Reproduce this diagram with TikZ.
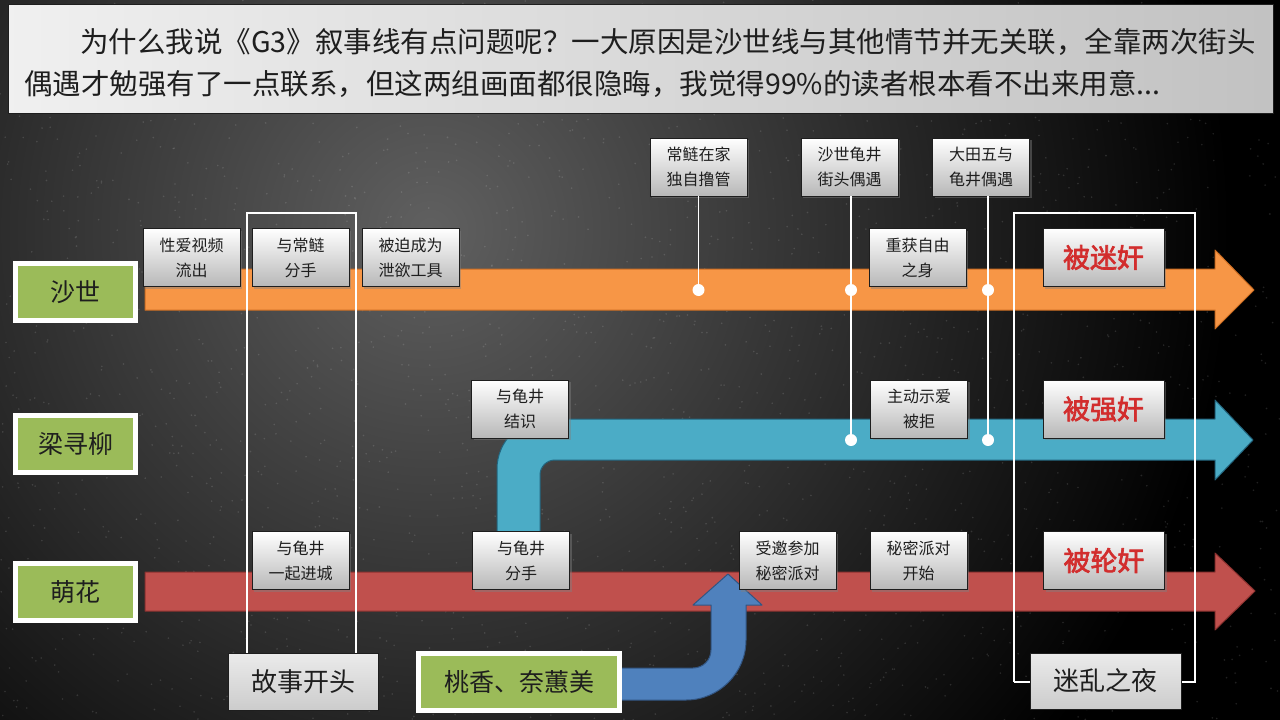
\documentclass[tikz,border=0pt]{standalone}
\usepackage{fontspec}
\setmainfont{Noto Sans CJK SC}[AutoFakeBold=2.5]
\usetikzlibrary{shadows}
\definecolor{orF}{RGB}{247,150,70}
\definecolor{orD}{RGB}{205,110,35}
\definecolor{aqF}{RGB}{75,172,198}
\definecolor{aqD}{RGB}{35,100,125}
\definecolor{rdF}{RGB}{192,80,77}
\definecolor{rdD}{RGB}{140,50,48}
\definecolor{blF}{RGB}{79,129,189}
\definecolor{blD}{RGB}{50,85,130}
\definecolor{grF}{RGB}{155,187,89}
\definecolor{hot}{RGB}{210,45,45}
\definecolor{ink}{RGB}{30,30,30}
\definecolor{bgA}{RGB}{96,96,96}
\begin{document}
\begin{tikzpicture}[x=1pt,y=-1pt,
  evbox/.style={draw=ink, line width=0.9pt, top color=white, bottom color=black!28,
    minimum width=97pt, minimum height=58pt, inner sep=0pt, align=center,
    font=\fontsize{16}{25}\selectfont, text=ink,
    drop shadow={shadow xshift=2pt, shadow yshift=-2pt, opacity=0.45}},
  hotbox/.style={evbox, minimum width=121pt, font=\fontsize{27}{27}\selectfont\bfseries, text=hot},
  lbl/.style={fill=grF, draw=white, line width=5pt, inner sep=0pt,
    minimum width=120pt, minimum height=57pt, font=\fontsize{25}{25}\selectfont, text=ink},
  capbox/.style={draw=ink, line width=0.9pt, top color=black!8, bottom color=black!20,
    minimum width=150pt, minimum height=57pt, inner sep=0pt, font=\fontsize{26}{26}\selectfont, text=ink},
  conn/.style={draw=white, line width=1.6pt},
  brk/.style={draw=white, line width=1.8pt},
  dot/.style={fill=white},
  arr/.style={line width=1pt, line join=round}]
\useasboundingbox (0,0) rectangle (1280,720);
% background
\fill[black] (0,0) rectangle (1280,720);
\begin{scope}
  \clip (0,0) rectangle (1280,720);
  \shade[inner color=bgA, outer color=black] (430,230) circle (800);
  \pgfmathsetseed{7}
  \foreach \i in {1,...,2200} {
    \pgfmathsetmacro{\px}{rnd*1280}
    \pgfmathsetmacro{\py}{rnd*720}
    \fill[white, opacity=0.13] (\px,\py) circle (0.9);
  }
\end{scope}
% top text box
\node[draw=ink, line width=1pt, left color=black!6, right color=black!24,
  minimum width=1265pt, minimum height=109pt, inner sep=0pt] (head) at (640.5,58.5) {};
\node[anchor=west, inner sep=0pt, text=ink, font=\fontsize{28.5}{30}\selectfont] (tx1) at (80,42)
  {为什么我说《G3》叙事线有点问题呢？一大原因是沙世线与其他情节并无关联，全靠两次街头};
\node[anchor=west, inner sep=0pt, text=ink, font=\fontsize{28.5}{30}\selectfont] (tx2) at (24,84)
  {偶遇才勉强有了一点联系，但这两组画面都很隐晦，我觉得99\%的读者根本看不出来用意...};
% orange arrow (沙世)
\filldraw[arr, fill=orF, draw=orD] (145,269) -- (1215,269) -- (1215,250) -- (1254,290)
  -- (1215,329) -- (1215,310) -- (145,310) -- cycle;
% aqua arrow (梁寻柳)
\filldraw[arr, fill=aqF, draw=aqD] (497,560) -- (497,469) .. controls (497,441.4) and (519.4,419) .. (547,419)
  -- (1215,419) -- (1215,400) -- (1253,440) -- (1215,480) -- (1215,460) -- (555,460)
  .. controls (546.7,460) and (540,466.7) .. (540,475) -- (540,560) -- cycle;
% red arrow (萌花)
\filldraw[arr, fill=rdF, draw=rdD] (145,572) -- (1215,572) -- (1215,553) -- (1255,591)
  -- (1215,630) -- (1215,611) -- (145,611) -- cycle;
% blue U arrow (桃香、奈蕙美)
\filldraw[arr, fill=blF, draw=blD] (615,700) -- (686,700) .. controls (719,700) and (746,673) .. (746,640)
  -- (746,605) -- (762,605) -- (728,574) -- (693,605) -- (711,605) -- (711,650)
  .. controls (711,660) and (703,668) .. (693,668) -- (615,668) -- cycle;
% brackets
\draw[brk] (247,682) -- (247,213) -- (356,213) -- (356,682);
\draw[brk] (1014,682) -- (1014,213) -- (1195,213) -- (1195,682) -- (1014,682);
% connector end points
\coordinate (d1) at (698.5,290);
\coordinate (d2a) at (851,290);
\coordinate (d2b) at (851,440);
\coordinate (d3a) at (988,290);
\coordinate (d3b) at (988,440);
\node[evbox] (t1) at (698.5,167) {常鲢在家\\独自撸管};
\node[evbox] (t2) at (849.5,167) {沙世龟井\\街头偶遇};
\node[evbox] (t3) at (981,167) {大田五与\\龟井偶遇};
\draw[conn] (t1.south) -- (d1);
\draw[conn] (t2.south -| d2b) -- (d2b);
\draw[conn] (t3.south -| d3b) -- (d3b);
\foreach \d in {d1,d2a,d2b,d3a,d3b} \fill[dot] (\d) circle (6);
% row 1
\node[evbox] (e1) at (191.5,257.5) {性爱视频\\流出};
\node[evbox] (e2) at (300.5,257.5) {与常鲢\\分手};
\node[evbox] (e3) at (410.5,257.5) {被迫成为\\泄欲工具};
\node[evbox] (e4) at (917.5,257.5) {重获自由\\之身};
\node[hotbox] (r1) at (1103.5,257.5) {被迷奸};
% row 2
\node[evbox] (m1) at (520,409) {与龟井\\结识};
\node[evbox] (m2) at (919,409) {主动示爱\\被拒};
\node[hotbox] (r2) at (1103.5,409) {被强奸};
% row 3
\node[evbox] (b1) at (300.5,560.5) {与龟井\\一起进城};
\node[evbox] (b2) at (521,560.5) {与龟井\\分手};
\node[evbox] (b3) at (787.5,560.5) {受邀参加\\秘密派对};
\node[evbox] (b4) at (918.5,560.5) {秘密派对\\开始};
\node[hotbox] (r3) at (1104,560.5) {被轮奸};
% captions
\node[capbox] (s1) at (303,682) {故事开头};
\node[capbox, minimum width=151pt, minimum height=56pt] (s2) at (1105.5,681) {迷乱之夜};
% character labels
\node[lbl] (L1) at (75.5,292) {沙世};
\node[lbl] (L2) at (75.5,443.5) {梁寻柳};
\node[lbl] (L3) at (75,592) {萌花};
\node[lbl, minimum width=201pt] (L4) at (519,682) {桃香、奈蕙美};
\end{tikzpicture}
\end{document}
